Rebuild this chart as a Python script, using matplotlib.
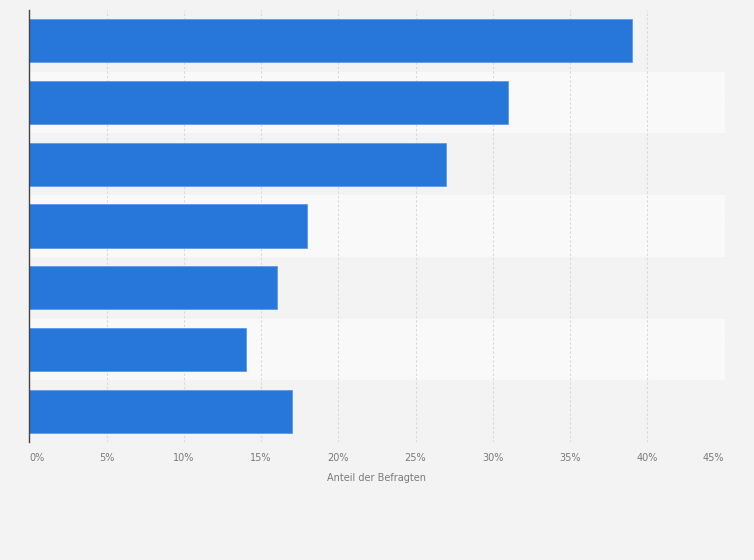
import matplotlib.pyplot as plt

# Data (category labels are not shown in the chart)
categories = ['1', '2', '3', '4', '5', '6', '7']
values = [39, 31, 27, 18, 16, 14, 17]
tick_values = [0, 5, 10, 15, 20, 25, 30, 35, 40, 45]
tick_labels = ['0%', '5%', '10%', '15%', '20%', '25%', '30%', '35%', '40%', '45%']

bg = '#f3f3f3'
fig = plt.figure(figsize=(7.54, 5.6), dpi=100, facecolor=bg)
ax = fig.add_axes([0.0389, 0.2107, 0.9220, 0.7714])
ax.set_facecolor(bg)

n = len(categories)
pos = list(range(n))

# alternating row bands
for i in pos:
    if i % 2 == 1:
        ax.axhspan(i - 0.5, i + 0.5, color='#f9f9f9', zorder=0, lw=0)

ax.barh(pos, values, height=0.7, color='#2777db', edgecolor='#5d9ae8',
        linewidth=0.6, zorder=3)

ax.set_ylim(n - 0.5, -0.5)
ax.set_xlim(0, 45)
ax.set_yticks([])

ax.set_xticks(tick_values)
ax.set_xticklabels(tick_labels, fontsize=7, color='#7a7a7a')
ax.tick_params(axis='x', length=0, pad=8)
lbls = ax.get_xticklabels()
lbls[0].set_ha('left')
lbls[-1].set_ha('right')

ax.grid(axis='x', color='#d8d8d8', linestyle=(0, (2, 2)), linewidth=0.8, zorder=1)

for s in ['top', 'right', 'bottom']:
    ax.spines[s].set_visible(False)
ax.spines['left'].set_color('#444444')
ax.spines['left'].set_linewidth(1)
ax.spines['left'].set_zorder(4)

ax.set_xlabel('Anteil der Befragten', fontsize=7, color='#7a7a7a', labelpad=7)

plt.savefig('out.png', dpi=100, facecolor=bg)
